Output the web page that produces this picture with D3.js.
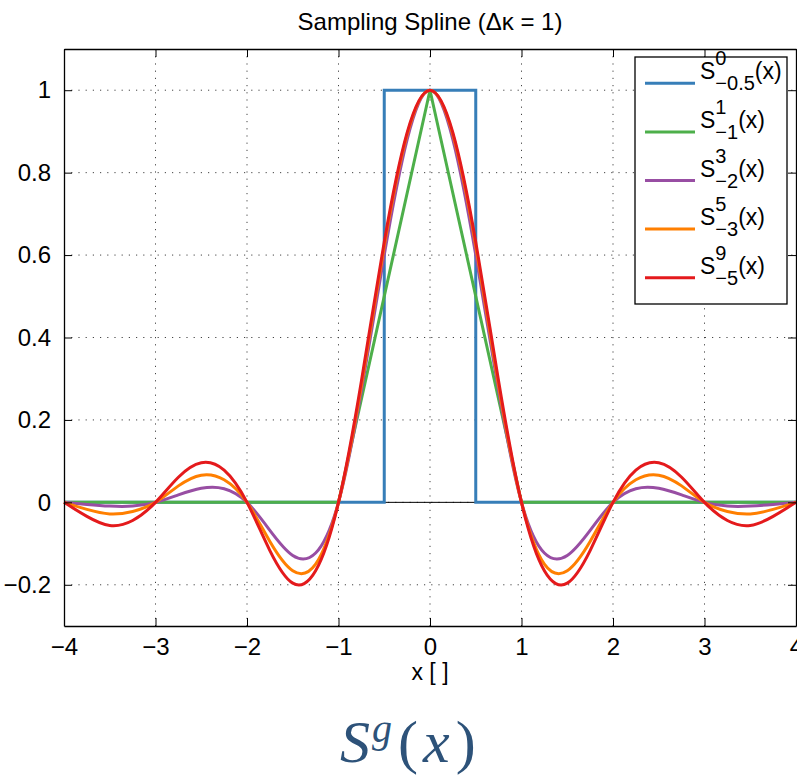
<!DOCTYPE html>
<html>
<head>
<meta charset="utf-8">
<script src="https://cdn.jsdelivr.net/npm/d3@7"></script>
<style>
  body { margin: 0; background: #fff; }
  svg { display: block; font-family: "Liberation Sans", Arial, sans-serif; }
</style>
</head>
<body>
<div id="chart"></div>
<script>
// sample positions (step 0.25)
var xs = [-4, -3.75, -3.5, -3.25, -3, -2.75, -2.5, -2.25, -2, -1.75, -1.5, -1.25, -1, -0.75, -0.5, -0.25,
  0, 0.25, 0.5, 0.75, 1, 1.25, 1.5, 1.75, 2, 2.25, 2.5, 2.75, 3, 3.25, 3.5, 3.75, 4];

// box and hat are drawn as straight segments
var boxX = [-4, -0.5, -0.5, 0.5, 0.5, 4];
var boxY = [0, 0, 1, 1, 0, 0];
var hatX = [-4, -1, 0, 1, 4];
var hatY = [0, 0, 1, 0, 0];

var s3 = [0, -0.005, -0.009, -0.009, 0, 0.018, 0.034, 0.033, 0, -0.068, -0.129, -0.123, 0, 0.27, 0.60, 0.88,
  1, 0.88, 0.60, 0.27, 0, -0.123, -0.129, -0.068, 0, 0.033, 0.034, 0.018, 0, -0.009, -0.009, -0.005, 0];
var s5 = [0, -0.017, -0.028, -0.022, 0, 0.040, 0.066, 0.055, 0, -0.095, -0.166, -0.150, 0, 0.283, 0.622, 0.892,
  1, 0.892, 0.622, 0.283, 0, -0.150, -0.166, -0.095, 0, 0.055, 0.066, 0.040, 0, -0.022, -0.028, -0.017, 0];
var s9 = [0, -0.034, -0.056, -0.044, 0, 0.061, 0.096, 0.078, 0, -0.117, -0.196, -0.166, 0, 0.294, 0.632, 0.897,
  1, 0.897, 0.632, 0.294, 0, -0.166, -0.196, -0.117, 0, 0.078, 0.096, 0.061, 0, -0.044, -0.056, -0.034, 0];

var xTicks = [-4, -3, -2, -1, 0, 1, 2, 3, 4];
var yTicks = [-0.2, 0, 0.2, 0.4, 0.6, 0.8, 1];

// legend entries: superscript, subscript
var legendSup = ["0", "1", "3", "5", "9"];
var legendSub = ["\u22120.5", "\u22121", "\u22122", "\u22123", "\u22125"];
var colors = ["#377eb8", "#4daf4a", "#984ea3", "#ff7f00", "#e41a1c"];

var width = 797, height = 775;
// plot frame (names avoid window.top etc.)
var pL = 64, pR = 796, pT = 49, pB = 626;

var x = d3.scaleLinear().domain([-4, 4]).range([pL, pR]);
var y = d3.scaleLinear().domain([-0.3, 1.1]).range([pB, pT]);

var svg = d3.select('#chart')
  .append('svg')
  .attr('width', width)
  .attr('height', height);

// dotted grid
svg.append('g').selectAll('line')
  .data(xTicks.slice(1, -1))
  .enter().append('line')
  .attr('x1', function (d) { return x(d); })
  .attr('x2', function (d) { return x(d); })
  .attr('y1', pT).attr('y2', pB)
  .attr('stroke', '#444').attr('stroke-width', 1)
  .attr('stroke-dasharray', '1.2,6');

svg.append('g').selectAll('line')
  .data(yTicks)
  .enter().append('line')
  .attr('y1', function (d) { return y(d); })
  .attr('y2', function (d) { return y(d); })
  .attr('x1', pL).attr('x2', pR)
  .attr('stroke', '#444').attr('stroke-width', 1)
  .attr('stroke-dasharray', '1.2,6');

// zero line
svg.append('line')
  .attr('x1', x(-4)).attr('x2', x(4))
  .attr('y1', y(0)).attr('y2', y(0))
  .attr('stroke', '#000').attr('stroke-width', 1);

// curves
var straight = d3.line()
  .x(function (d) { return x(d[0]); })
  .y(function (d) { return y(d[1]); });
var smooth = d3.line()
  .x(function (d) { return x(d[0]); })
  .y(function (d) { return y(d[1]); })
  .curve(d3.curveNatural);

var series = [
  { pts: d3.zip(boxX, boxY), gen: straight },
  { pts: d3.zip(hatX, hatY), gen: straight },
  { pts: d3.zip(xs, s3), gen: smooth },
  { pts: d3.zip(xs, s5), gen: smooth },
  { pts: d3.zip(xs, s9), gen: smooth }
];

svg.append('g').selectAll('path')
  .data(series)
  .enter().append('path')
  .attr('d', function (d) { return d.gen(d.pts); })
  .attr('fill', 'none')
  .attr('stroke', function (d, i) { return colors[i]; })
  .attr('stroke-width', 3)
  .attr('stroke-linejoin', 'miter');

// axes box with inward ticks on all sides
var fmt = function (d) { return d3.format('')(d).replace('-', '\u2212'); };

svg.append('g')
  .attr('transform', 'translate(0,' + pB + ')')
  .call(d3.axisBottom(x).tickValues(xTicks).tickSizeInner(-8).tickSizeOuter(0).tickPadding(12).tickFormat(fmt));
svg.append('g')
  .attr('transform', 'translate(0,' + pT + ')')
  .call(d3.axisTop(x).tickValues(xTicks).tickSizeInner(-8).tickSizeOuter(0).tickFormat(''));
svg.append('g')
  .attr('transform', 'translate(' + pL + ',0)')
  .call(d3.axisLeft(y).tickValues(yTicks).tickSizeInner(-8).tickSizeOuter(0).tickPadding(13).tickFormat(fmt));
svg.append('g')
  .attr('transform', 'translate(' + pR + ',0)')
  .call(d3.axisRight(y).tickValues(yTicks).tickSizeInner(-8).tickSizeOuter(0).tickFormat(''));

svg.selectAll('.domain').attr('stroke', '#000').attr('stroke-width', 1.3);
svg.selectAll('.tick line').attr('stroke', '#000').attr('stroke-width', 1);
svg.selectAll('.tick text')
  .attr('font-family', '"Liberation Sans", Arial, sans-serif')
  .attr('font-size', 24)
  .attr('fill', '#000');

// title and axis label
svg.append('text')
  .attr('x', (pL + pR) / 2).attr('y', 30)
  .attr('text-anchor', 'middle')
  .attr('font-size', 24)
  .text('Sampling Spline (\u0394\u03ba = 1)');

svg.append('text')
  .attr('x', (pL + pR) / 2).attr('y', 680)
  .attr('text-anchor', 'middle')
  .attr('font-size', 23)
  .text('x [ ]');

// legend
var legend = svg.append('g');
legend.append('rect')
  .attr('x', 635).attr('y', 57)
  .attr('width', 152).attr('height', 247)
  .attr('fill', '#fff').attr('stroke', '#000').attr('stroke-width', 1.3);

legendSup.forEach(function (sup, i) {
  var ly = 83.3 + i * 48.6;
  legend.append('line')
    .attr('x1', 645).attr('x2', 695)
    .attr('y1', ly).attr('y2', ly)
    .attr('stroke', colors[i]).attr('stroke-width', 3);
  var s = legend.append('text').attr('x', 700).attr('y', ly - 4).attr('font-size', 23).text('S');
  var x0 = 700 + s.node().getComputedTextLength();
  var t1 = legend.append('text').attr('x', x0).attr('y', ly - 18).attr('font-size', 20).text(sup);
  var t2 = legend.append('text').attr('x', x0).attr('y', ly + 7).attr('font-size', 20).text(legendSub[i]);
  var w = Math.max(t1.node().getComputedTextLength(), t2.node().getComputedTextLength());
  legend.append('text').attr('x', x0 + w).attr('y', ly - 4).attr('font-size', 23).text('(x)');
});

// formula caption underneath
var cap = svg.append('text')
  .attr('x', 340).attr('y', 762)
  .attr('font-family', '"Liberation Serif", "DejaVu Serif", serif')
  .attr('font-size', 60)
  .attr('fill', '#2d5279');
cap.append('tspan').attr('font-style', 'italic').text('S');
cap.append('tspan').attr('font-style', 'italic').attr('font-size', 40).attr('dy', -20).attr('dx', 2).text('g');
cap.append('tspan').attr('dy', 20).attr('dx', 6).text('(');
cap.append('tspan').attr('font-style', 'italic').attr('dx', 5).text('x');
cap.append('tspan').attr('dx', 6).text(')');
</script>
</body>
</html>
